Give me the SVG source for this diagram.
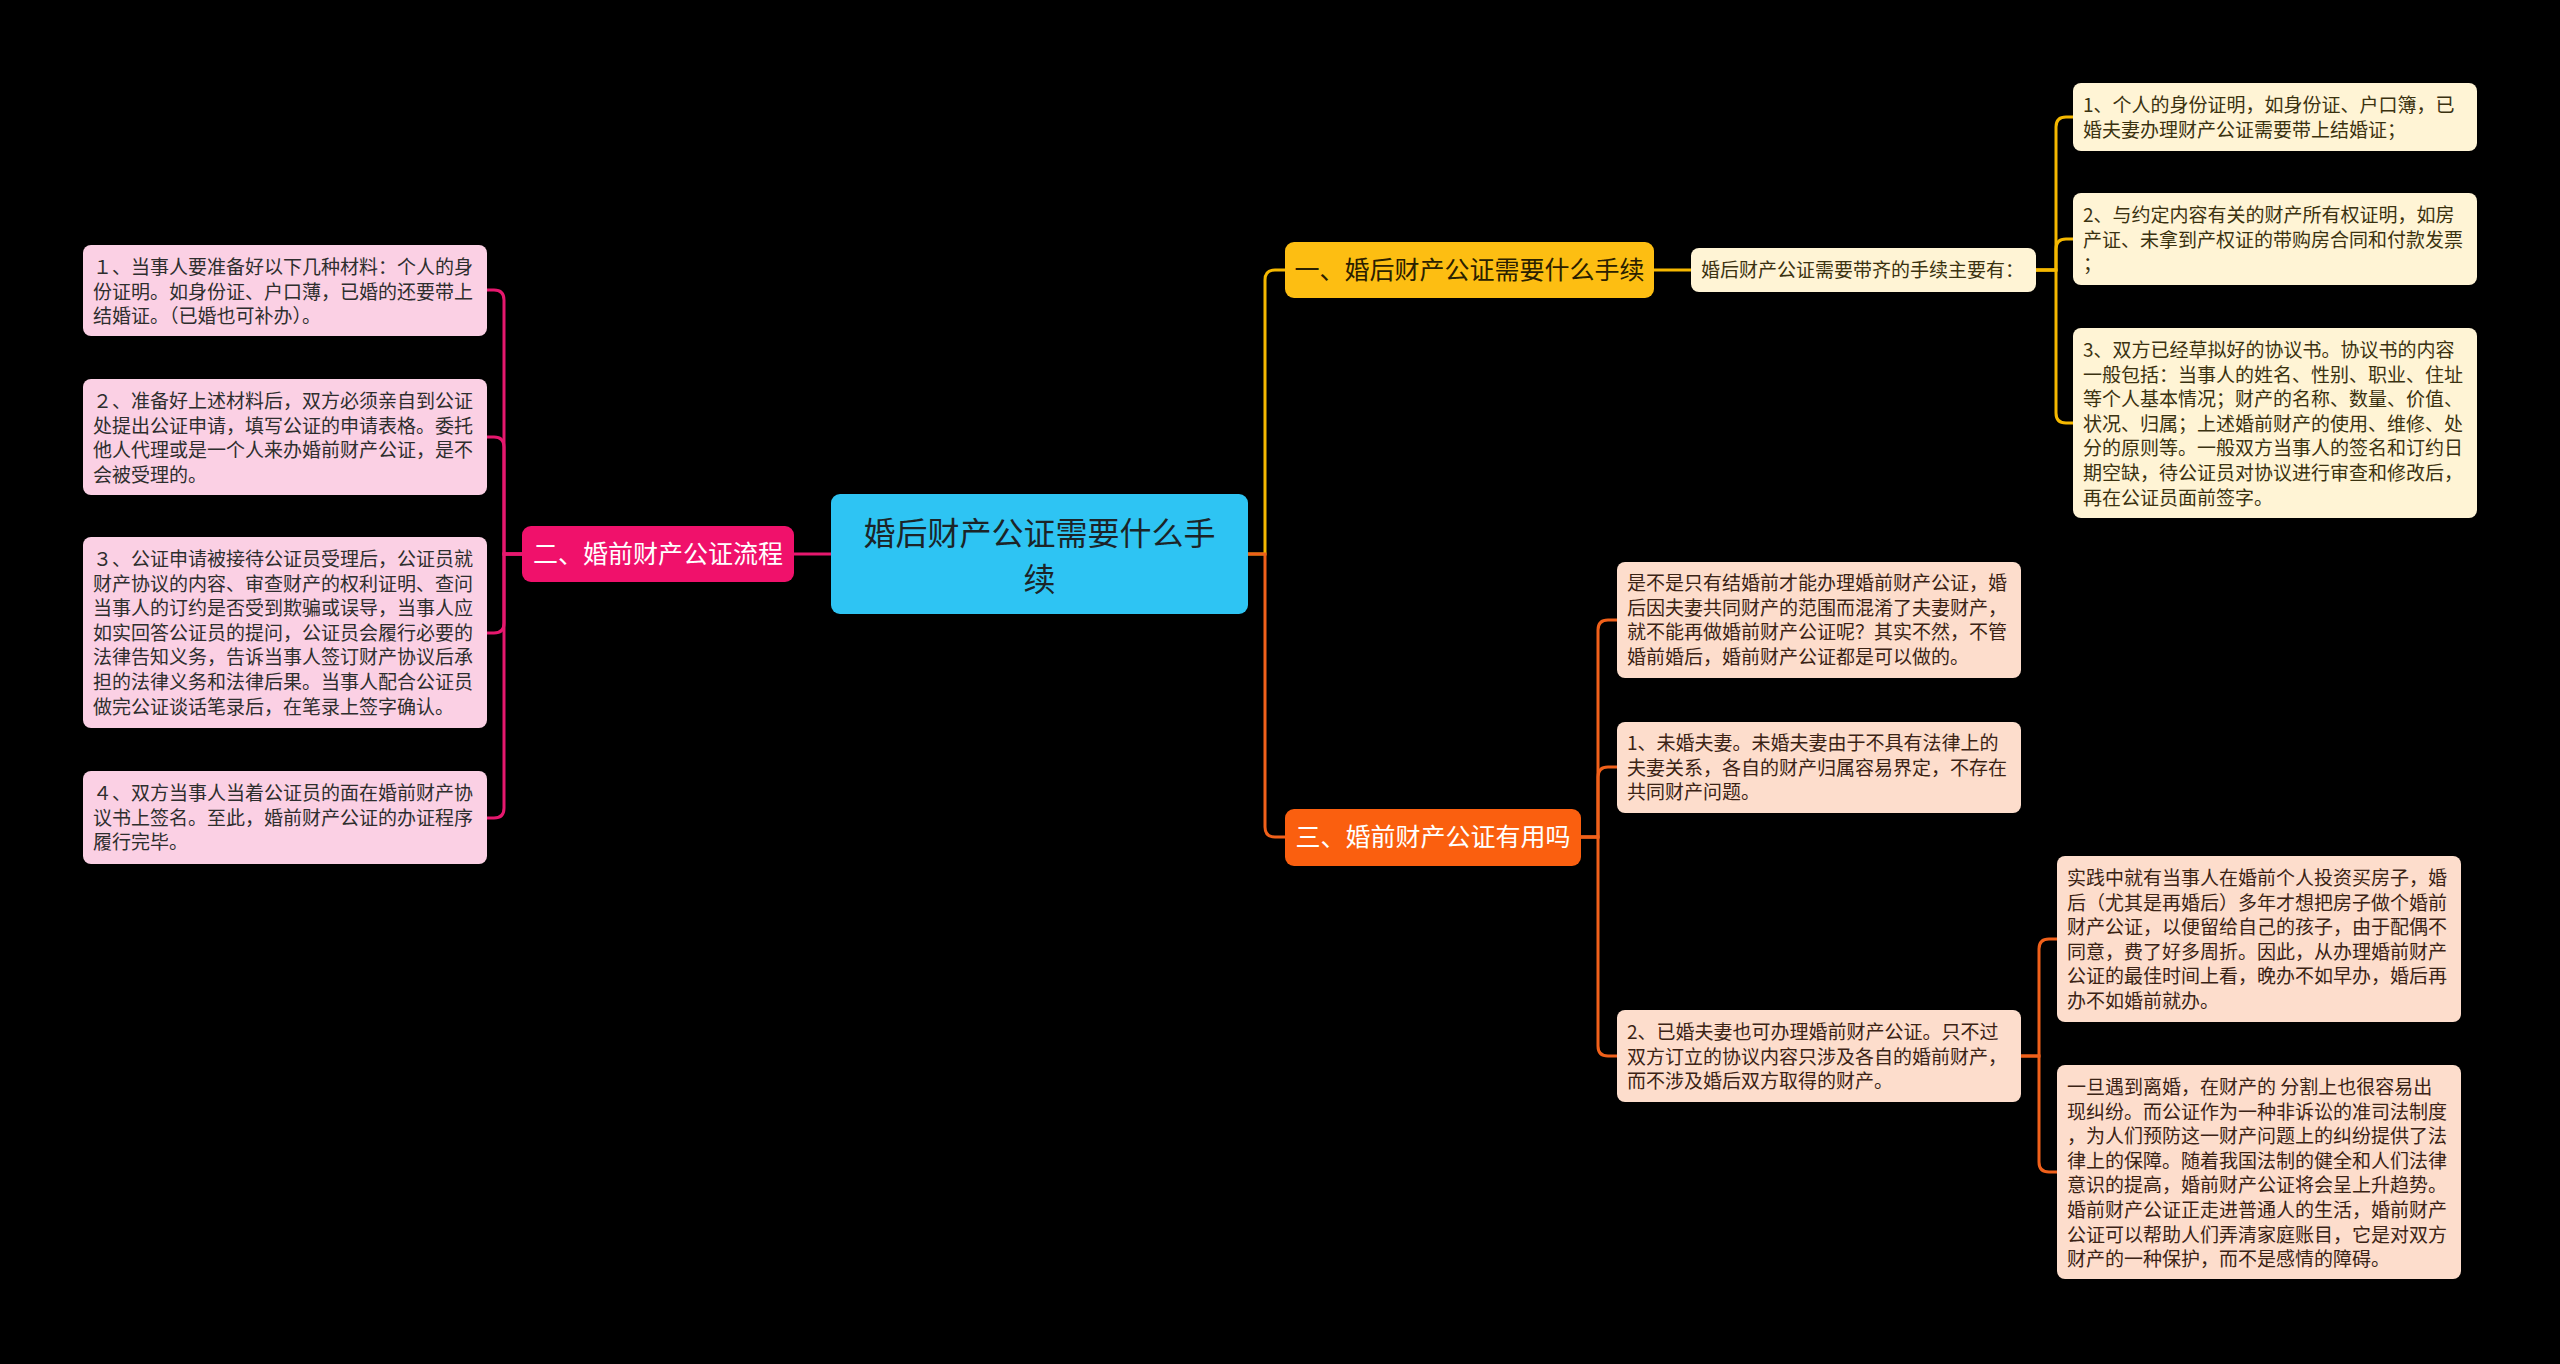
<svg xmlns="http://www.w3.org/2000/svg" width="2560" height="1364" viewBox="0 0 2560 1364">
<style>
.cjk{font-family:"Noto Sans CJK SC","Microsoft YaHei","Noto Sans",sans-serif}
.leaf{font-size:19px}
.pinkT{fill:#2e2e2e}
.goldT{fill:#3b3210}
.orT{fill:#3b2315}
.pinkF{fill:#FBD0E4}
.goldF{fill:#FFF4D5}
.orF{fill:#FDDDCC}
.ln{fill:none;stroke-width:3}
.pk{stroke:#E6186E}
.gd{stroke:#F5B800}
.og{stroke:#F0601A}
</style>
<rect x="0" y="0" width="2560" height="1364" fill="#000000"/>
<g id="connectors">
<path class="ln pk" d="M831,554 H794"/>
<path class="ln pk" d="M522,554 H504 V300 Q504,290 494,290 H487"/>
<path class="ln pk" d="M522,554 H504 V447 Q504,437 494,437 H487"/>
<path class="ln pk" d="M522,554 H504 V623 Q504,633 494,633 H487"/>
<path class="ln pk" d="M522,554 H504 V808 Q504,818 494,818 H487"/>
<path class="ln gd" d="M1248,554 H1265 V280 Q1265,270 1275,270 H1285"/>
<path class="ln og" d="M1248,554 H1265 V827 Q1265,837 1275,837 H1285"/>
<path class="ln gd" d="M1654,270 H1691"/>
<path class="ln gd" d="M2036,270 H2056 V127 Q2056,117 2066,117 H2073"/>
<path class="ln gd" d="M2036,270 H2056 V249 Q2056,239 2066,239 H2073"/>
<path class="ln gd" d="M2036,270 H2056 V413 Q2056,423 2066,423 H2073"/>
<path class="ln og" d="M1581,837 H1598 V630 Q1598,620 1608,620 H1617"/>
<path class="ln og" d="M1581,837 H1598 V777 Q1598,767 1608,767 H1617"/>
<path class="ln og" d="M1581,837 H1598 V1046 Q1598,1056 1608,1056 H1617"/>
<path class="ln og" d="M2021,1056 H2039 V949 Q2039,939 2049,939 H2057"/>
<path class="ln og" d="M2021,1056 H2039 V1162 Q2039,1172 2049,1172 H2057"/>
</g>
<g id="root">
<rect x="831" y="494" width="417" height="120" rx="9" fill="#2EC4F3"/>
<text class="cjk" font-size="32" fill="#1c2428" text-anchor="middle"><tspan x="1039.5" y="545">婚后财产公证需要什么手</tspan><tspan x="1039.5" y="591">续</tspan></text>
</g>
<g id="branch2">
<rect x="522" y="526" width="272" height="56" rx="9" fill="#F0116B"/>
<text class="cjk" font-size="25" fill="#ffffff" x="658" y="563" text-anchor="middle">二、婚前财产公证流程</text>
</g>
<g id="p1">
<rect class="pinkF" x="83" y="245" width="404" height="91" rx="8"/>
<text class="cjk leaf pinkT"><tspan x="93" y="274">１、当事人要准备好以下几种材料：个人的身</tspan><tspan x="93" y="298.6">份证明。如身份证、户口薄，已婚的还要带上</tspan><tspan x="93" y="323.2">结婚证。（已婚也可补办）。</tspan></text>
</g>
<g id="p2">
<rect class="pinkF" x="83" y="379" width="404" height="116" rx="8"/>
<text class="cjk leaf pinkT"><tspan x="93" y="408">２、准备好上述材料后，双方必须亲自到公证</tspan><tspan x="93" y="432.6">处提出公证申请，填写公证的申请表格。委托</tspan><tspan x="93" y="457.2">他人代理或是一个人来办婚前财产公证，是不</tspan><tspan x="93" y="481.8">会被受理的。</tspan></text>
</g>
<g id="p3">
<rect class="pinkF" x="83" y="537" width="404" height="191" rx="8"/>
<text class="cjk leaf pinkT"><tspan x="93" y="566">３、公证申请被接待公证员受理后，公证员就</tspan><tspan x="93" y="590.6">财产协议的内容、审查财产的权利证明、查问</tspan><tspan x="93" y="615.2">当事人的订约是否受到欺骗或误导，当事人应</tspan><tspan x="93" y="639.8">如实回答公证员的提问，公证员会履行必要的</tspan><tspan x="93" y="664.4">法律告知义务，告诉当事人签订财产协议后承</tspan><tspan x="93" y="689">担的法律义务和法律后果。当事人配合公证员</tspan><tspan x="93" y="713.6">做完公证谈话笔录后，在笔录上签字确认。</tspan></text>
</g>
<g id="p4">
<rect class="pinkF" x="83" y="771" width="404" height="93" rx="8"/>
<text class="cjk leaf pinkT"><tspan x="93" y="800">４、双方当事人当着公证员的面在婚前财产协</tspan><tspan x="93" y="824.6">议书上签名。至此，婚前财产公证的办证程序</tspan><tspan x="93" y="849.2">履行完毕。</tspan></text>
</g>
<g id="branch1">
<rect x="1285" y="242" width="369" height="56" rx="9" fill="#FDBE12"/>
<text class="cjk" font-size="25" fill="#2a2000" x="1469.5" y="279" text-anchor="middle">一、婚后财产公证需要什么手续</text>
</g>
<g id="g0">
<rect class="goldF" x="1691" y="248" width="345" height="44" rx="8"/>
<text class="cjk leaf goldT" x="1701" y="277">婚后财产公证需要带齐的手续主要有：</text>
</g>
<g id="g1">
<rect class="goldF" x="2073" y="83" width="404" height="68" rx="8"/>
<text class="cjk leaf goldT"><tspan x="2083" y="112">1、个人的身份证明，如身份证、户口簿，已</tspan><tspan x="2083" y="136.6">婚夫妻办理财产公证需要带上结婚证；</tspan></text>
</g>
<g id="g2">
<rect class="goldF" x="2073" y="193" width="404" height="92" rx="8"/>
<text class="cjk leaf goldT"><tspan x="2083" y="222">2、与约定内容有关的财产所有权证明，如房</tspan><tspan x="2083" y="246.6">产证、未拿到产权证的带购房合同和付款发票</tspan><tspan x="2083" y="271.2">；</tspan></text>
</g>
<g id="g3">
<rect class="goldF" x="2073" y="328" width="404" height="190" rx="8"/>
<text class="cjk leaf goldT"><tspan x="2083" y="357">3、双方已经草拟好的协议书。协议书的内容</tspan><tspan x="2083" y="381.6">一般包括：当事人的姓名、性别、职业、住址</tspan><tspan x="2083" y="406.2">等个人基本情况；财产的名称、数量、价值、</tspan><tspan x="2083" y="430.8">状况、归属；上述婚前财产的使用、维修、处</tspan><tspan x="2083" y="455.4">分的原则等。一般双方当事人的签名和订约日</tspan><tspan x="2083" y="480">期空缺，待公证员对协议进行审查和修改后，</tspan><tspan x="2083" y="504.6">再在公证员面前签字。</tspan></text>
</g>
<g id="branch3">
<rect x="1285" y="809" width="296" height="57" rx="9" fill="#FA5F0F"/>
<text class="cjk" font-size="25" fill="#ffffff" x="1433" y="846" text-anchor="middle">三、婚前财产公证有用吗</text>
</g>
<g id="o1">
<rect class="orF" x="1617" y="562" width="404" height="116" rx="8"/>
<text class="cjk leaf orT"><tspan x="1627" y="590">是不是只有结婚前才能办理婚前财产公证，婚</tspan><tspan x="1627" y="614.6">后因夫妻共同财产的范围而混淆了夫妻财产，</tspan><tspan x="1627" y="639.2">就不能再做婚前财产公证呢？其实不然，不管</tspan><tspan x="1627" y="663.8">婚前婚后，婚前财产公证都是可以做的。</tspan></text>
</g>
<g id="o2">
<rect class="orF" x="1617" y="722" width="404" height="91" rx="8"/>
<text class="cjk leaf orT"><tspan x="1627" y="750">1、未婚夫妻。未婚夫妻由于不具有法律上的</tspan><tspan x="1627" y="774.6">夫妻关系，各自的财产归属容易界定，不存在</tspan><tspan x="1627" y="799.2">共同财产问题。</tspan></text>
</g>
<g id="o3">
<rect class="orF" x="1617" y="1010" width="404" height="92" rx="8"/>
<text class="cjk leaf orT"><tspan x="1627" y="1039">2、已婚夫妻也可办理婚前财产公证。只不过</tspan><tspan x="1627" y="1063.6">双方订立的协议内容只涉及各自的婚前财产，</tspan><tspan x="1627" y="1088.2">而不涉及婚后双方取得的财产。</tspan></text>
</g>
<g id="o4">
<rect class="orF" x="2057" y="856" width="404" height="166" rx="8"/>
<text class="cjk leaf orT"><tspan x="2067" y="885">实践中就有当事人在婚前个人投资买房子，婚</tspan><tspan x="2067" y="909.6">后（尤其是再婚后）多年才想把房子做个婚前</tspan><tspan x="2067" y="934.2">财产公证，以便留给自己的孩子，由于配偶不</tspan><tspan x="2067" y="958.8">同意，费了好多周折。因此，从办理婚前财产</tspan><tspan x="2067" y="983.4">公证的最佳时间上看，晚办不如早办，婚后再</tspan><tspan x="2067" y="1008">办不如婚前就办。</tspan></text>
</g>
<g id="o5">
<rect class="orF" x="2057" y="1065" width="404" height="214" rx="8"/>
<text class="cjk leaf orT" xml:space="preserve"><tspan x="2067" y="1094">一旦遇到离婚，在财产的 分割上也很容易出</tspan><tspan x="2067" y="1118.6">现纠纷。而公证作为一种非诉讼的准司法制度</tspan><tspan x="2067" y="1143.2">，为人们预防这一财产问题上的纠纷提供了法</tspan><tspan x="2067" y="1167.8">律上的保障。随着我国法制的健全和人们法律</tspan><tspan x="2067" y="1192.4">意识的提高，婚前财产公证将会呈上升趋势。</tspan><tspan x="2067" y="1217">婚前财产公证正走进普通人的生活，婚前财产</tspan><tspan x="2067" y="1241.6">公证可以帮助人们弄清家庭账目，它是对双方</tspan><tspan x="2067" y="1266.2">财产的一种保护，而不是感情的障碍。</tspan></text>
</g>
</svg>
